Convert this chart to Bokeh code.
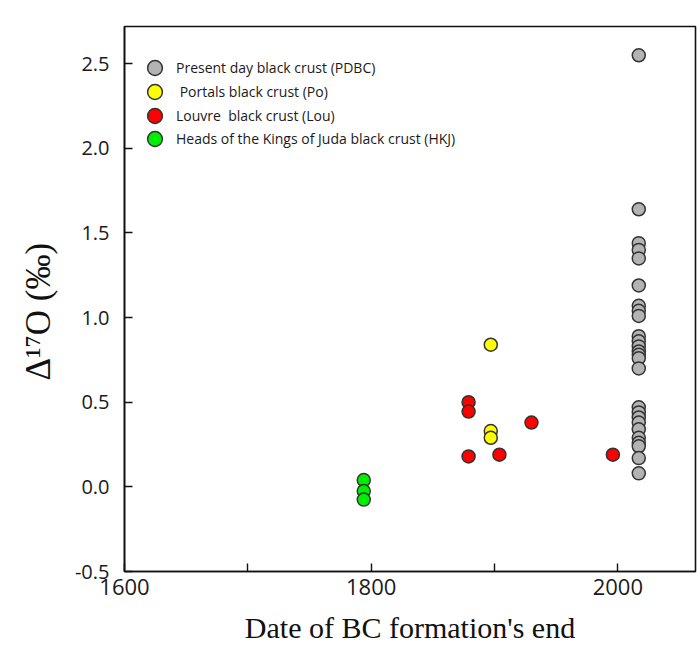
from bokeh.plotting import figure
from bokeh.models import (Range1d, FixedTicker, PrintfTickFormatter, Legend,
                          LegendItem, Title)
from bokeh.embed import file_html
from bokeh.resources import INLINE

# ---- data ----
pdbc_date = [2017, 2017, 2017, 2017, 2017, 2017, 2017, 2017, 2017, 2017, 2017, 2017, 2017,
             2017, 2017, 2017, 2017, 2017, 2017, 2017, 2017, 2017, 2017, 2017, 2017, 2017]
pdbc_d17o = [2.55, 1.64, 1.44, 1.40, 1.35, 1.19, 1.07, 1.04, 1.01, 0.89, 0.86, 0.83, 0.80,
             0.78, 0.76, 0.70, 0.47, 0.44, 0.41, 0.38, 0.34, 0.29, 0.26, 0.24, 0.17, 0.08]

po_date = [1897, 1897, 1897]
po_d17o = [0.84, 0.33, 0.29]

lou_date = [1879, 1879, 1879, 1904, 1930, 1996]
lou_d17o = [0.50, 0.445, 0.18, 0.19, 0.38, 0.19]

hkj_date = [1794, 1794, 1794]
hkj_d17o = [0.04, -0.025, -0.075]

series_labels = ["Present day black crust (PDBC)",
                 " Portals black crust (Po)",
                 "Louvre  black crust (Lou)",
                 "Heads of the Kings of Juda black crust (HKJ)"]
series_colors = ["#b3b3b3", "#ffff00", "#ff0000", "#00ee00"]

x_ticks = [1600, 1700, 1800, 1900, 2000]
y_ticks = [-0.5, 0.0, 0.5, 1.0, 1.5, 2.0, 2.5]

TICK_FONT = "Open Sans"
SERIF = "Liberation Serif"

p = figure(width=697, height=646, output_backend="svg", toolbar_location=None,
           x_range=Range1d(1600, 2063), y_range=Range1d(-0.5, 2.72),
           min_border_left=124, min_border_right=2, min_border_top=26,
           min_border_bottom=74)
p.xgrid.visible = False
p.ygrid.visible = False
p.outline_line_color = "#111111"
p.outline_line_width = 1.6
p.background_fill_color = "white"
p.border_fill_color = "white"

for ax in (p.xaxis[0], p.yaxis[0]):
    ax.axis_line_color = "#111111"
    ax.axis_line_width = 1.6
    ax.major_tick_line_color = "#111111"
    ax.major_tick_line_width = 1.4
    ax.major_tick_in = 8
    ax.major_tick_out = 0
    ax.minor_tick_line_color = None
    ax.major_label_text_font = TICK_FONT
    ax.major_label_text_color = "#1a1a1a"

p.xaxis.ticker = FixedTicker(ticks=x_ticks)
p.xaxis.major_label_overrides = {1700: "", 1900: ""}
p.xaxis.major_label_text_font_size = "22px"
p.xaxis.major_label_standoff = 7
p.xaxis.axis_label = "Date of BC formation's end"
p.xaxis.axis_label_text_font = SERIF
p.xaxis.axis_label_text_font_size = "30px"
p.xaxis.axis_label_text_font_style = "normal"
p.xaxis.axis_label_text_color = "#111111"
p.xaxis.axis_label_standoff = 13

p.yaxis.ticker = FixedTicker(ticks=y_ticks)
p.yaxis.formatter = PrintfTickFormatter(format="%.1f")
p.yaxis.major_label_text_font_size = "20px"
p.yaxis.major_label_standoff = 15

p.add_layout(Title(text="\u0394\u00b9\u2077O (\u2030)", align="left", offset=191,
                   standoff=27, text_font=SERIF, text_font_size="35px",
                   text_font_style="normal", text_color="#111111"), "left")

mk = dict(size=13, line_color="#333333", line_width=1.5)
renderers = [
    p.scatter(pdbc_date, pdbc_d17o, fill_color=series_colors[0], **mk),
    p.scatter(po_date, po_d17o, fill_color=series_colors[1], **mk),
    p.scatter(lou_date, lou_d17o, fill_color=series_colors[2], **mk),
    p.scatter(hkj_date, hkj_d17o, fill_color=series_colors[3], **mk),
]

# one single-entry legend per series, stacked at the reference's row pitch
legend_bottoms = [485, 461, 437, 414]
for lab, r, vy in zip(series_labels, renderers, legend_bottoms):
    lg = Legend(items=[LegendItem(label=lab, renderers=[r])],
                location=(12, vy), glyph_width=37, glyph_height=37,
                label_height=37, spacing=0, padding=0, margin=0,
                label_standoff=3, border_line_color=None,
                background_fill_alpha=0,
                label_text_font=TICK_FONT, label_text_font_size="14px",
                label_text_color="#1a1a1a")
    p.add_layout(lg, "center")

open("out.html", "w").write(file_html(p, INLINE))
